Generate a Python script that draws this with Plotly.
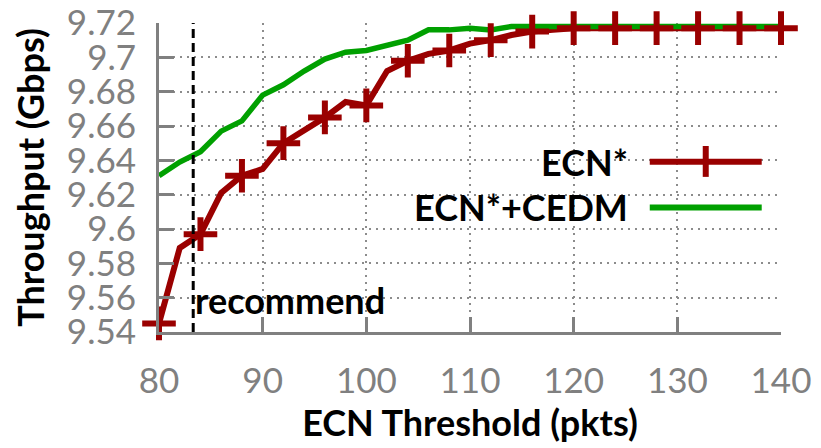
import plotly.graph_objects as go

# ---- data ----
ecn_x = [80, 82, 84, 86, 88, 90, 92, 94, 96, 98, 100, 102, 104, 106, 108, 110,
         112, 114, 116, 118, 120, 122, 124, 126, 128, 130, 132, 134, 136, 138, 140]
ecn_y = [9.545, 9.589, 9.597, 9.621, 9.631, 9.635, 9.650, 9.657, 9.665, 9.674,
         9.672, 9.692, 9.698, 9.702, 9.704, 9.708, 9.710, 9.713, 9.715, 9.716,
         9.717, 9.717, 9.717, 9.717, 9.717, 9.717, 9.717, 9.717, 9.717, 9.717, 9.717]
cedm_x = ecn_x
cedm_y = [9.631, 9.639, 9.645, 9.657, 9.663, 9.678, 9.684, 9.692, 9.699, 9.703,
          9.704, 9.707, 9.710, 9.716, 9.716, 9.717, 9.716, 9.718, 9.718, 9.718,
          9.718, 9.718, 9.718, 9.718, 9.718, 9.718, 9.718, 9.718, 9.718, 9.718, 9.718]
recommend_x = 83.3

x_ticks = [80, 90, 100, 110, 120, 130, 140]
x_tick_labels = ["80", "90", "100", "110", "120", "130", "140"]
y_ticks = [9.54, 9.56, 9.58, 9.60, 9.62, 9.64, 9.66, 9.68, 9.70, 9.72]
y_tick_labels = ["9.54", "9.56", "9.58", "9.6", "9.62", "9.64", "9.66", "9.68", "9.7", "9.72"]

series_names = ["ECN*", "ECN*+CEDM"]

# ---- style ----
RED = "#9a0000"
GREEN = "#00a000"
GRAY = "#808080"
GRID = "#8c8c8c"
FONT = "Lato"
TICK_SIZE = 35
TEXT_SIZE = 36

marker_sizes = [24 if (x - 80) % 4 == 0 else 0 for x in ecn_x]

fig = go.Figure()
fig.add_trace(go.Scatter(x=ecn_x, y=ecn_y, mode="lines", name=series_names[0],
                         line=dict(color=RED, width=6), cliponaxis=False,
                         showlegend=False))
fig.add_trace(go.Scatter(x=cedm_x, y=cedm_y, mode="lines", name=series_names[1],
                         line=dict(color=GREEN, width=5.5), cliponaxis=False,
                         showlegend=False))
fig.add_trace(go.Scatter(x=ecn_x, y=ecn_y, mode="markers", name=series_names[0],
                         marker=dict(symbol="cross-thin", size=marker_sizes,
                                     color=RED, opacity=1,
                                     line=dict(color=RED, width=6)),
                         opacity=1, cliponaxis=False, showlegend=False))

# recommend line
fig.add_shape(type="line", xref="x", yref="paper", x0=recommend_x, x1=recommend_x,
              y0=0, y1=1, line=dict(color="black", width=3, dash="9px,5px"))
fig.add_annotation(x=recommend_x, y=0.105, xref="x", yref="paper", text="recommend",
                   showarrow=False, xanchor="left", yanchor="middle", xshift=0,
                   font=dict(family=FONT, size=TEXT_SIZE, color="black", weight="bold"))

# legend box (white, hides grid)
fig.add_shape(type="rect", xref="paper", yref="paper", x0=0.392, x1=0.995,
              y0=0.343, y1=0.628, fillcolor="white", line=dict(width=0),
              layer="between")
leg_y = [0.551, 0.403]
leg_col = [RED, GREEN]
for name, yy, col in zip(series_names, leg_y, leg_col):
    fig.add_annotation(x=0.755, y=yy, xref="paper", yref="paper", text=name,
                       showarrow=False, xanchor="right", yanchor="middle", xshift=1,
                       font=dict(family=FONT, size=TEXT_SIZE, color="black", weight="bold"))
    fig.add_shape(type="line", xref="paper", yref="paper", x0=0.789, x1=0.969,
                  y0=yy, y1=yy, line=dict(color=col, width=6))
fig.add_shape(type="line", xref="paper", yref="paper", x0=0.879, x1=0.879,
              y0=0.502, y1=0.602, line=dict(color=RED, width=6))

axis_common = dict(showline=True, linecolor=GRAY, linewidth=3, ticks="inside",
                   ticklen=15, tickwidth=3, tickcolor=GRAY, showgrid=True,
                   gridcolor=GRID, gridwidth=2, griddash="2px,5px",
                   zeroline=False, mirror=False, automargin=False,
                   ticklabeloverflow="allow",
                   tickfont=dict(family=FONT, size=TICK_SIZE, color=GRAY))

fig.update_xaxes(range=[80, 140], tickvals=x_ticks, ticktext=x_tick_labels,
                 ticklabelstandoff=16,
                 title=dict(text="ECN Threshold (pkts)", standoff=6,
                            font=dict(family=FONT, size=TEXT_SIZE, color="black", weight="bold")),
                 **axis_common)
fig.update_yaxes(range=[9.54, 9.72], tickvals=y_ticks, ticktext=y_tick_labels,
                 ticklabelstandoff=13,
                 title=dict(text="Throughput (Gbps)", standoff=19,
                            font=dict(family=FONT, size=TEXT_SIZE, color="black", weight="bold")),
                 **axis_common)

# the page body adds an 8px offset, so the figure is 8px smaller than the window
fig.update_layout(width=813, height=440, autosize=False,
                  margin=dict(l=151, r=40, t=15, b=116),
                  paper_bgcolor="white", plot_bgcolor="white",
                  font=dict(family=FONT))

fig.write_html("out.html")
